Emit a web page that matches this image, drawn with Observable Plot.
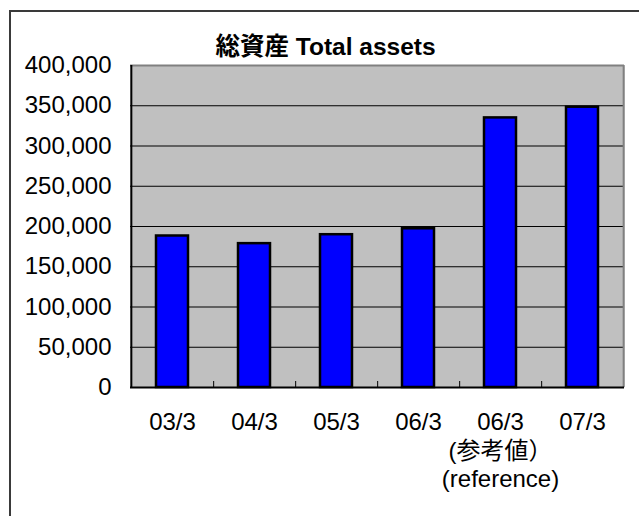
<!DOCTYPE html>
<html>
<head>
<meta charset="utf-8">
<script src="https://cdn.jsdelivr.net/npm/d3@7"></script>
<script src="https://cdn.jsdelivr.net/npm/@observablehq/plot@0.6"></script>
<style>
  html, body { margin: 0; padding: 0; background: #fff; overflow: hidden; width: 639px; height: 516px; }
  #frame { position: absolute; left: 9px; top: 10px; width: 700px; height: 600px; border: 2px solid #3a3a3a; }
  #chart { position: absolute; left: 0; top: 0; }
</style>
</head>
<body>
<div id="frame"></div>
<div id="chart"></div>
<script>
// Data
const categories = ["03/3", "04/3", "05/3", "06/3", "06/3 ref", "07/3"];
const tickLabels = ["03/3", "04/3", "05/3", "06/3", "06/3\n(参考値）\n(reference)", "07/3"];
const totalAssets = [188200, 178700, 189800, 197200, 334900, 348200];
const yTicks = [0, 50000, 100000, 150000, 200000, 250000, 300000, 350000, 400000];
const titleText = "総資産 Total assets";

const rows = categories.map((c, i) => ({cat: c, label: tickLabels[i], value: totalAssets[i]}));

const W = 639, H = 516;
const mL = 130, mR = 15, mT = 65, mB = 129;
const step = (W - mL - mR) / categories.length;
const plotH = H - mT - mB;

const chart = Plot.plot({
  width: W,
  height: H,
  marginLeft: mL,
  marginRight: mR,
  marginTop: mT,
  marginBottom: mB,
  style: {fontFamily: "'Liberation Sans', Arial, 'Noto Sans CJK JP', sans-serif", fontSize: "24px", color: "#000", background: "transparent"},
  x: {type: "band", domain: categories, paddingInner: 0.611, paddingOuter: 0.3055, axis: null},
  y: {domain: [0, 400000], axis: null},
  marks: [
    Plot.frame({fill: "#c0c0c0", stroke: "none"}),
    Plot.ruleY(yTicks.filter(d => d > 0 && d < 400000), {stroke: "#000", strokeWidth: 1}),
    // gray top & right border
    Plot.ruleY([400000], {stroke: "#808080", strokeWidth: 2}),
    Plot.ruleX([categories[categories.length - 1]], {stroke: "#808080", strokeWidth: 2, dx: step / 2}),
    // category boundary ticks on baseline
    Plot.ruleX(categories.slice(0, -1), {x: d => d, dx: step / 2, stroke: "#000", strokeWidth: 1, insetTop: plotH - 6}),
    Plot.barY(rows, {x: "cat", y: "value", fill: "#0000ff", stroke: "#000", strokeWidth: 2.5}),
    // axis lines
    Plot.ruleY([0], {stroke: "#000", strokeWidth: 2}),
    Plot.ruleX([categories[0]], {stroke: "#000", strokeWidth: 2, dx: -step / 2}),
    Plot.axisY(yTicks, {label: null, tickSize: 0, tickPadding: 19, tickFormat: d3.format(","), fontSize: 24, fill: "#000"}),
    Plot.text(rows, {x: "cat", text: "label", frameAnchor: "bottom", lineAnchor: "top", dy: 23, lineHeight: 1.17, fontSize: 24, fill: "#000", style: "letter-spacing: 1.5px"}),
    Plot.text([titleText], {text: d => d, frameAnchor: "top-left", textAnchor: "start", lineAnchor: "bottom", dx: 85, dy: -11, fontSize: 24.5, fontWeight: "bold", fill: "#000", fontFamily: "'Liberation Sans', 'Noto Sans CJK JP', sans-serif", style: "letter-spacing: 1.5px"})
  ]
});
document.getElementById("chart").appendChild(chart);
</script>
</body>
</html>
